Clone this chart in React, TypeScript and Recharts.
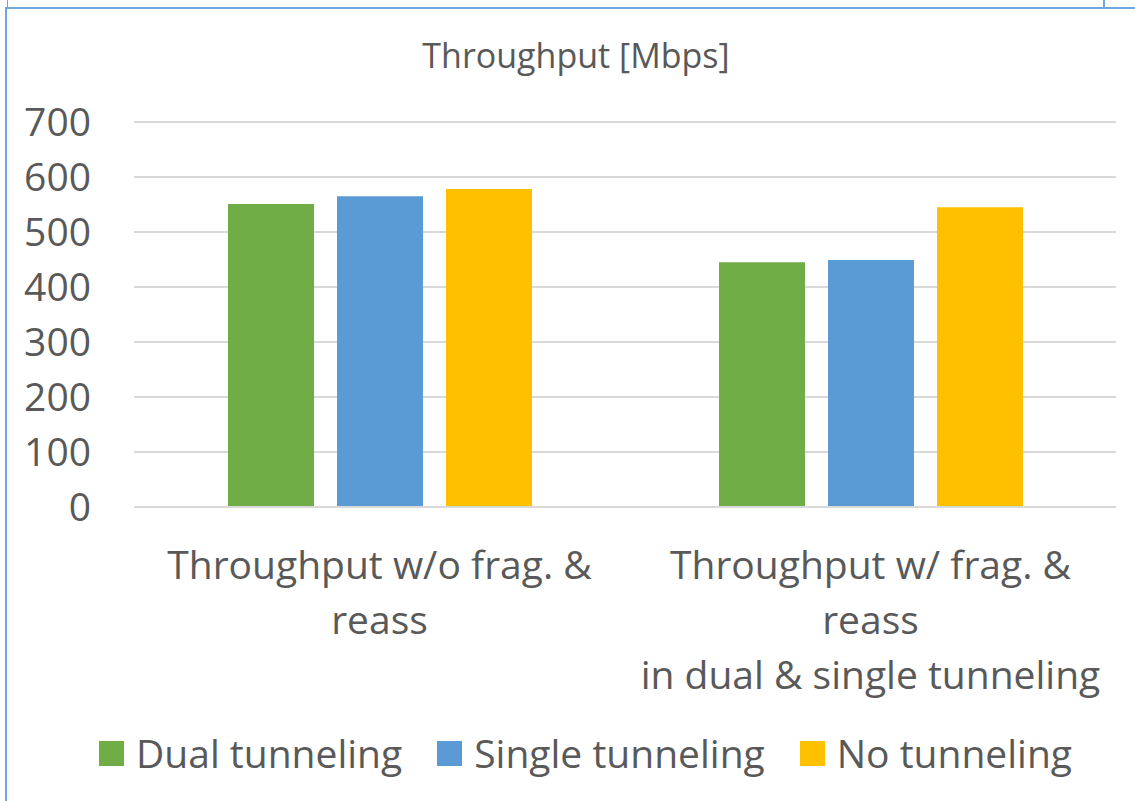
import React from "react";
import { BarChart, Bar, XAxis, YAxis, CartesianGrid, Legend } from "recharts";

const CATEGORIES = [
  "Throughput w/o frag. &\nreass",
  "Throughput w/ frag. &\nreass\nin dual & single tunneling",
];
const DUAL = [551, 445];
const SINGLE = [565, 449];
const NONE = [578, 545];
const Y_TICKS = [0, 100, 200, 300, 400, 500, 600, 700];

const SERIES = [
  { key: "dual", name: "Dual tunneling", color: "#70ad47" },
  { key: "single", name: "Single tunneling", color: "#5b9bd5" },
  { key: "none", name: "No tunneling", color: "#ffc000" },
];

const data = CATEGORIES.map((c, i) => ({
  category: c,
  dual: DUAL[i],
  single: SINGLE[i],
  none: NONE[i],
}));

const FONT = "'Open Sans', sans-serif";
const TEXT = "#595959";

function CategoryTick(props: any) {
  const { x, y, payload } = props;
  const lines = String(payload.value).split("\n");
  return (
    <text x={x} y={y} textAnchor="middle" fill={TEXT} fontSize={39} fontFamily={FONT}>
      {lines.map((l, i) => (
        <tspan key={i} x={x} dy={i === 0 ? 72 : 55}>
          {l}
        </tspan>
      ))}
    </text>
  );
}

function LegendContent() {
  return (
    <div
      style={{
        position: "absolute",
        top: 0,
        left: 99,
        height: 50,
        display: "flex",
        alignItems: "center",
        whiteSpace: "nowrap",
        fontFamily: FONT,
        fontSize: 39,
        color: TEXT,
        lineHeight: "50px",
      }}
    >
      {SERIES.map((s, i) => (
        <div key={s.key} style={{ display: "flex", alignItems: "center", marginRight: i < SERIES.length - 1 ? 35 : 0 }}>
          <span style={{ width: 25, height: 25, background: s.color, display: "inline-block", marginRight: 12 }} />
          <span>{s.name}</span>
        </div>
      ))}
    </div>
  );
}

export default function App() {
  return (
    <div style={{ position: "absolute", top: 0, left: 0, width: 1135, height: 801, overflow: "hidden", background: "#fff" }}>
      {/* frame */}
      <div style={{ position: "absolute", left: 5, top: 7, width: 1200, height: 900, borderTop: "2px solid #6fa8dc", borderLeft: "2px solid #6fa8dc" }} />
      <div style={{ position: "absolute", left: 7, top: 0, width: 1, height: 7, background: "#6fa8dc" }} />
      <div style={{ position: "absolute", left: 1103, top: 0, width: 2, height: 7, background: "#6fa8dc" }} />

      <div
        style={{
          position: "absolute",
          left: 376,
          top: 38,
          width: 400,
          textAlign: "center",
          fontFamily: FONT,
          fontSize: 34,
          lineHeight: "34px",
          color: TEXT,
        }}
      >
        Throughput [Mbps]
      </div>

      <BarChart
        width={1135}
        height={801}
        data={data}
        margin={{ top: 122, right: 19, left: 0, bottom: 0 }}
        barSize={86}
        barGap={23}
        style={{ position: "absolute", top: 0, left: 0, fontFamily: FONT }}
      >
        <CartesianGrid vertical={false} stroke="#d9d9d9" strokeWidth={2} />
        <XAxis
          dataKey="category"
          height={294}
          tickLine={false}
          tickSize={0}
          tickMargin={0}
          axisLine={{ stroke: "#d9d9d9", strokeWidth: 2 }}
          tick={<CategoryTick />}
          interval={0}
        />
        <YAxis
          width={134}
          domain={[0, 700]}
          ticks={Y_TICKS}
          tickLine={false}
          axisLine={false}
          tickSize={0}
          tickMargin={43}
          tick={{ fill: TEXT, fontSize: 39, fontFamily: FONT }}
        />
        <Legend
          verticalAlign="bottom"
          content={<LegendContent />}
          wrapperStyle={{ top: 728, bottom: "auto", left: 0, width: 1135, height: 0, overflow: "visible" }}
        />
        {SERIES.map((s) => (
          <Bar key={s.key} dataKey={s.key} name={s.name} fill={s.color} isAnimationActive={false} />
        ))}
      </BarChart>
    </div>
  );
}
